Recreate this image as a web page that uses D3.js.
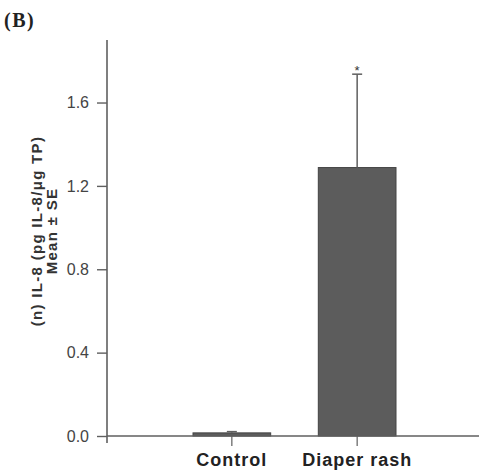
<!DOCTYPE html>
<html>
<head>
<meta charset="utf-8">
<script src="https://cdn.jsdelivr.net/npm/d3@7"></script>
<style>
  body { margin: 0; background: #fff; }
  svg { display: block; }
</style>
</head>
<body>
<svg id="chart" width="479" height="472"></svg>
<script>
// données
let groupes = ["Control", "Diaper rash"];
let moyennes = [0.015, 1.288];
let erreurs = [0.006, 0.448];
let signif = ["", "*"];
let ticksY = [0.0, 0.4, 0.8, 1.2, 1.6];

let svg = d3.select("#chart");
let gris = "#5f5f5f";

let y = d3.scaleLinear().domain([0, 1.9]).range([436, 40]);
let x = d3.scaleBand().domain(groupes).range([193, 396]).paddingInner(0.38).paddingOuter(0);

// Titre du panneau
svg.append("text")
    .attr("x", 4).attr("y", 27)
    .attr("font-family", "Liberation Serif, Times New Roman, serif")
    .attr("font-weight", "bold")
    .attr("font-size", "20px")
    .attr("letter-spacing", "1.5px")
    .attr("fill", "#222")
    .text("(B)");

// barres
svg.selectAll(".barre")
    .data(groupes)
    .join("rect")
    .attr("class", "barre")
    .attr("x", d => x(d))
    .attr("width", x.bandwidth())
    .attr("y", (d, i) => y(moyennes[i]))
    .attr("height", (d, i) => y(0) - y(moyennes[i]))
    .attr("fill", "#5c5c5c")
    .attr("stroke", "#444")
    .attr("stroke-width", 1);

// barres d'erreur (seulement vers le haut)
let cx = d => x(d) + x.bandwidth() / 2;
svg.selectAll(".err")
    .data(groupes)
    .join("line")
    .attr("class", "err")
    .attr("x1", cx).attr("x2", cx)
    .attr("y1", (d, i) => y(moyennes[i]))
    .attr("y2", (d, i) => y(moyennes[i] + erreurs[i]))
    .attr("stroke", gris).attr("stroke-width", 1.5);

svg.selectAll(".cap")
    .data(groupes)
    .join("line")
    .attr("class", "cap")
    .attr("x1", d => cx(d) - 5).attr("x2", d => cx(d) + 5)
    .attr("y1", (d, i) => y(moyennes[i] + erreurs[i]))
    .attr("y2", (d, i) => y(moyennes[i] + erreurs[i]))
    .attr("stroke", gris).attr("stroke-width", 1.5);

svg.selectAll(".star")
    .data(groupes)
    .join("text")
    .attr("class", "star")
    .attr("x", cx)
    .attr("y", (d, i) => y(moyennes[i] + erreurs[i]) + 1)
    .attr("text-anchor", "middle")
    .attr("font-family", "Liberation Sans, Arial, sans-serif")
    .attr("font-size", "13px")
    .attr("fill", "#333")
    .text((d, i) => signif[i]);

// axe Y
let axeY = svg.append("g")
    .attr("transform", "translate(107,0)")
    .call(d3.axisLeft(y).tickValues(ticksY).tickFormat(d3.format(".1f")).tickSize(10).tickPadding(8));
axeY.select(".domain").attr("d", "M0,40V443").attr("stroke", gris).attr("stroke-width", 1.6);
axeY.selectAll(".tick line").attr("stroke", gris).attr("stroke-width", 1.4);
axeY.selectAll(".tick text")
    .attr("font-family", "Liberation Sans, Arial, sans-serif")
    .attr("font-size", "16px")
    .attr("fill", "#444");

// axe X
let axeX = svg.append("g")
    .attr("transform", "translate(0,436)")
    .call(d3.axisBottom(x).tickSize(10).tickPadding(7));
axeX.select(".domain").attr("d", "M107,0H479").attr("stroke", gris).attr("stroke-width", 1.6);
axeX.selectAll(".tick line").attr("stroke", gris).attr("stroke-width", 1.2);
axeX.selectAll(".tick text")
    .attr("font-family", "Liberation Sans, Arial, sans-serif")
    .attr("font-weight", "bold")
    .attr("font-size", "18px")
    .attr("letter-spacing", "1px")
    .attr("fill", "#222");

// titre de l'axe Y sur deux lignes
let titreY = svg.append("text")
    .attr("transform", "translate(0,231) rotate(-90)")
    .attr("text-anchor", "middle")
    .attr("font-family", "Liberation Sans, Arial, sans-serif")
    .attr("font-weight", "bold")
    .attr("font-size", "15px")
    .attr("letter-spacing", "1.3px")
    .attr("fill", "#333");
titreY.append("tspan").attr("x", 0).attr("y", 42).text("(n) IL-8 (pg IL-8/\u03bcg TP)");
titreY.append("tspan").attr("x", 0).attr("y", 57).text("Mean \u00b1 SE");
</script>
</body>
</html>
